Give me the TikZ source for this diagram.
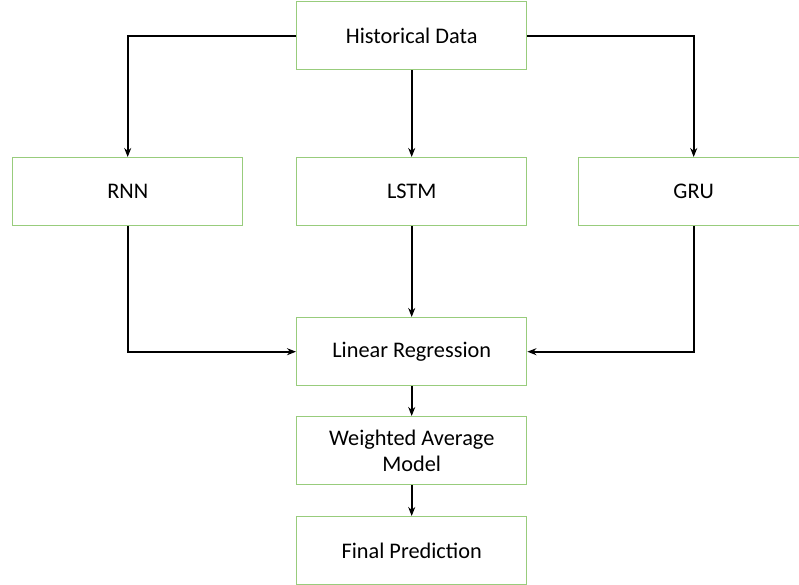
\documentclass[tikz,border=0pt]{standalone}
\usepackage{fontspec}
\setmainfont{Carlito}
\usetikzlibrary{arrows.meta}
\definecolor{boxgreen}{RGB}{152,204,124}
\begin{document}
\begin{tikzpicture}[x=1pt,y=-1pt,
  box/.style={draw=boxgreen,line width=1.4pt,fill=white,minimum width=230pt,minimum height=68pt,
    inner sep=0pt,align=center,font=\fontsize{22.3}{26}\selectfont,anchor=north west},
  flow/.style={draw=black,line width=2pt,-{Stealth[length=9pt,width=7pt]}}]
\useasboundingbox (0,0) rectangle (799,585);
\begin{scope}
\clip (0,0) rectangle (799,585);
\node[box] (hist) at (296,1) {Historical Data};
\node[box] (rnn) at (12,157) {RNN};
\node[box] (lstm) at (296,157) {LSTM};
\node[box] (gru) at (578,157) {GRU};
\node[box] (lr) at (296,317) {Linear Regression};
\node[box] (wam) at (296,416) {Weighted Average\\Model};
\node[box] (fp) at (296,516) {Final Prediction};
\draw[flow] (hist.west) -| (rnn.north);
\draw[flow] (hist.south) -- (lstm.north);
\draw[flow] (hist.east) -| (gru.north);
\draw[flow] (rnn.south) |- (lr.west);
\draw[flow] (lstm.south) -- (lr.north);
\draw[flow] (gru.south) |- (lr.east);
\draw[flow] (lr.south) -- (wam.north);
\draw[flow] (wam.south) -- (fp.north);
\end{scope}
\end{tikzpicture}
\end{document}
